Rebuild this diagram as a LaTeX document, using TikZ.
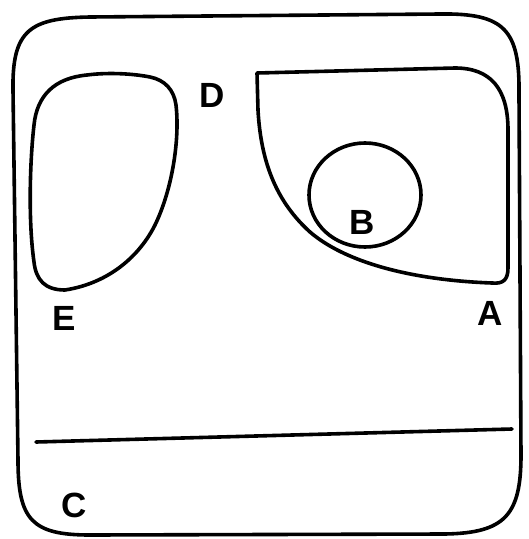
\documentclass[tikz,border=0pt]{standalone}
\usepackage{fontspec}
\setmainfont{Liberation Sans}
\begin{document}
\begin{tikzpicture}[x=1pt,y=-1pt,
  ink/.style={line width=3.6pt,line join=round,line cap=round},
  lbl/.style={font=\fontsize{35}{35}\selectfont\bfseries}]
\useasboundingbox (0,0) rectangle (529,539);
% outer frame
\draw[ink] (13,90) .. controls (12,30) and (30,18) .. (90,17)
  -- (440,14) .. controls (505,13) and (520,30) .. (519,95)
  -- (521,455) .. controls (521,515) and (505,533) .. (445,534)
  -- (90,535) .. controls (32,535) and (18,520) .. (18,460) -- cycle;
% E blob
\draw[ink] (87,75) .. controls (110,72) and (135,74) .. (150,77)
  .. controls (165,80) and (174,90) .. (176,105)
  .. controls (180,140) and (172,190) .. (155,225)
  .. controls (140,255) and (110,283) .. (65,290)
  .. controls (45,290) and (36,280) .. (34,262)
  .. controls (28,220) and (30,160) .. (34,125)
  .. controls (37,95) and (55,78) .. (87,75) -- cycle;
% A shape
\draw[ink] (258,110) -- (257,73) -- (455,68)
  .. controls (490,68) and (508,88) .. (508,130)
  -- (508,268) .. controls (508,280) and (503,284) .. (492,283)
  .. controls (410,280) and (345,262) .. (310,232)
  .. controls (278,203) and (261,165) .. (258,110) -- cycle;
% B circle
\draw[ink] (365,195) ellipse [x radius=56, y radius=52];
% bottom line
\draw[ink] (36,442) -- (512,429);
% labels
\node[lbl] (d) at (212,95) {D};
\node[lbl] (e) at (64,318) {E};
\node[lbl] (a) at (490,313) {A};
\node[lbl] (b) at (362,222) {B};
\node[lbl] (c) at (74,505) {C};
\end{tikzpicture}
\end{document}
